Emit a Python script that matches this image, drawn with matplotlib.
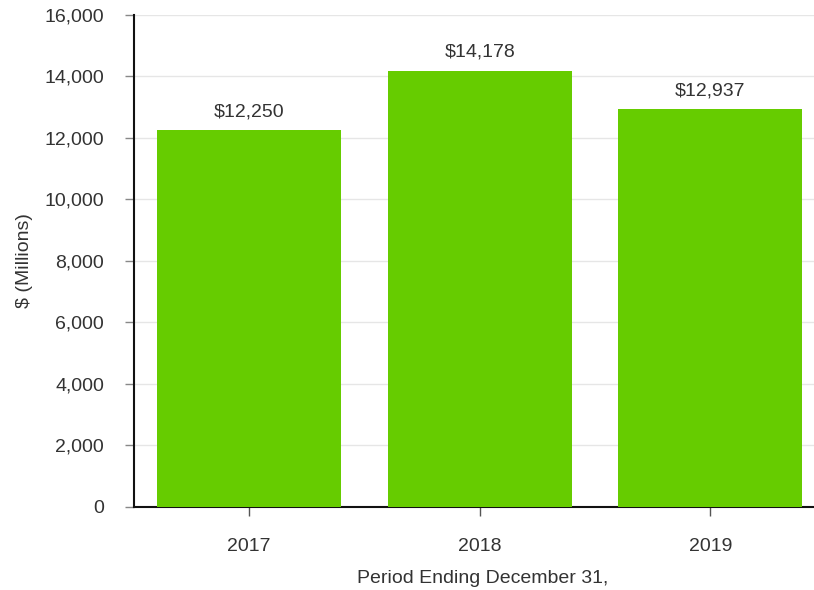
import matplotlib
matplotlib.use("Agg")
import matplotlib.pyplot as plt
from matplotlib.ticker import FuncFormatter

years = ["2017", "2018", "2019"]
values = [12250, 14178, 12937]
y_ticks = [0, 2000, 4000, 6000, 8000, 10000, 12000, 14000, 16000]

plt.rcParams["font.family"] = ["Liberation Sans", "DejaVu Sans"]
text_color = "#333333"

fig = plt.figure(figsize=(8.14, 5.90), dpi=100)
ax = fig.add_axes([0.1646, 0.1407, 1 - 0.1646, 0.9746 - 0.1407])

x = list(range(len(years)))
ax.bar(x, values, width=0.8, color="#66CC00", zorder=3)

for xi, v in zip(x, values):
    ax.text(xi, v + 330, f"${v:,}", ha="center", va="bottom",
            fontsize=14, color=text_color)

ax.set_xlim(-0.5, 2.45)
ax.set_ylim(0, 16000)
ax.set_yticks(y_ticks)
ax.yaxis.set_major_formatter(FuncFormatter(lambda v, p: f"{int(v):,}"))
ax.set_xticks(x)
ax.set_xticklabels(years)

ax.grid(axis="y", color="#e6e6e6", linewidth=1, zorder=0)
ax.spines["top"].set_visible(False)
ax.spines["right"].set_visible(False)
for side in ("left", "bottom"):
    ax.spines[side].set_linewidth(1.5)
    ax.spines[side].set_color("#111111")

ax.tick_params(axis="y", length=6.5, width=1, color="#888888",
               labelsize=14, labelcolor=text_color, pad=15)
ax.tick_params(axis="x", length=6.5, width=1, color="#555555",
               labelsize=14, labelcolor=text_color, pad=16)

ax.set_ylabel("$ (Millions)", fontsize=14, color=text_color, labelpad=8)
ax.set_xlabel("Period Ending December 31,", fontsize=14, color=text_color)
ax.xaxis.set_label_coords(0.512, -0.128)

fig.savefig("out.png", dpi=100)
